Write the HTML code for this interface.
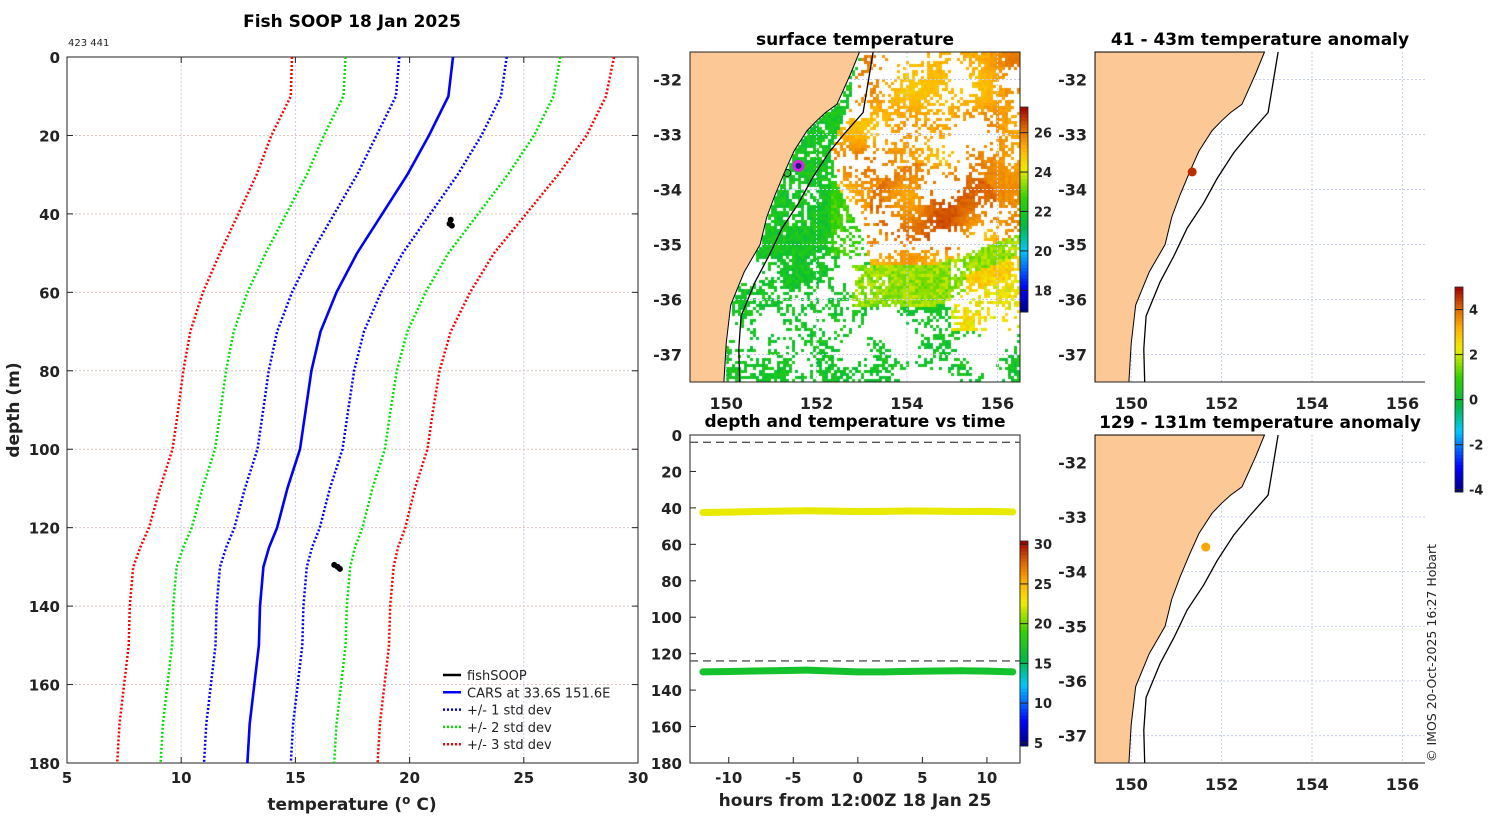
<!DOCTYPE html>
<html><head><meta charset="utf-8"><style>
body{margin:0;background:#fff;width:1500px;height:820px;overflow:hidden;position:relative}
svg{position:absolute;left:0;top:0}
canvas{position:absolute}
text{font-family:"DejaVu Sans","Liberation Sans",sans-serif;fill:#222}
.tk{font-size:15px;font-weight:bold}
.ti{font-size:17px;font-weight:bold;fill:#000}
.pl{font-size:13px;font-weight:normal}
</style></head><body>
<canvas id="sst" width="330" height="330" style="left:690px;top:52px"></canvas>
<svg id="fig" width="1500" height="820"></svg>
<script>
// ===== Profile data =====
const profDepths=[0,10,20,30,40,50,60,70,80,90,100,110,120,125,130,140,150,160,170,180];
const carsMean=[21.9,21.7,20.85,19.9,18.8,17.7,16.8,16.1,15.7,15.45,15.2,14.65,14.2,13.85,13.6,13.45,13.4,13.2,13.0,12.9];
const carsStd=[2.35,2.3,2.3,2.2,2.1,2.0,1.95,1.9,1.87,1.86,1.86,1.86,1.87,1.88,1.9,1.9,1.9,1.9,1.9,1.9];
const fishDepths=[41.5,42.5,43,129.5,130,130.5];
const fishTemps=[21.8,21.75,21.85,16.7,16.85,16.95];
const xTicks=[5,10,15,20,25,30];
const yTicks=[0,20,40,60,80,100,120,140,160,180];
// ===== Time series data =====
const hours=[-12,-10,-8,-6,-4,-2,0,2,4,6,8,10,12];
const depthShallow=[42.5,42.3,42,41.8,41.6,41.8,42,41.9,41.7,41.8,42,41.9,42.2];
const depthDeep=[130,129.8,129.5,129.3,129,129.5,130,130,129.7,129.5,129.4,129.6,130];
const tempShallow=[22.5,22.5,22.6,22.5,22.5,22.4,22.5,22.5,22.6,22.5,22.5,22.5,22.5];
const tempDeep=[16.8,16.8,16.9,16.8,16.8,16.7,16.8,16.8,16.8,16.9,16.8,16.8,16.8];
const tsXTicks=[-10,-5,0,5,10];
const tsYTicks=[0,20,40,60,80,100,120,140,160,180];
const tsCbTicks=[5,10,15,20,25,30];
const sstCbTicks=[18,20,22,24,26];
const anomCbTicks=[-4,-2,0,2,4];
const mldDepths=[4,124];
// map markers
const anomTop={lon:151.35,lat:-33.68,val:4.6};
const anomBot={lon:151.65,lat:-33.55,val:3.3};

const NS='http://www.w3.org/2000/svg';
const svg=document.getElementById('fig');
function el(tag,attrs,parent){const e=document.createElementNS(NS,tag);for(const k in attrs)e.setAttribute(k,attrs[k]);(parent||svg).appendChild(e);return e;}
function txt(x,y,s,cls,anchor,parent){const t=el('text',{x:x,y:y,class:cls,'text-anchor':anchor||'middle'},parent);t.textContent=s;return t;}

// colormap
const stops=[[0,[0,0,127]],[0.12,[0,0,255]],[0.3,[0,200,255]],[0.42,[0,185,70]],[0.56,[50,210,0]],[0.7,[240,235,0]],[0.8,[255,175,0]],[0.9,[220,100,0]],[1,[160,0,0]]];
function cmap(t){t=Math.max(0,Math.min(1,t));for(let i=1;i<stops.length;i++){if(t<=stops[i][0]){const a=stops[i-1],b=stops[i];const f=(t-a[0])/(b[0]-a[0]);const c=a[1].map((v,j)=>Math.round(v+(b[1][j]-v)*f));return 'rgb('+c.join(',')+')';}}return 'rgb(160,0,0)';}

// ===== Left profile chart =====
const P={x0:67,x1:638,y0:57,y1:763};
const px=v=>P.x0+(v-5)/25*(P.x1-P.x0);
const py=d=>P.y0+d/180*(P.y1-P.y0);
const gL=el('g',{},svg);

xTicks.forEach(v=>{if(v>5&&v<30)el('line',{x1:px(v),x2:px(v),y1:P.y0,y2:P.y1,stroke:'#c6cdf0','stroke-width':1,'stroke-dasharray':'2,2'},gL);
 el('line',{x1:px(v),x2:px(v),y1:P.y1,y2:P.y1-6,stroke:'#222'},gL);el('line',{x1:px(v),x2:px(v),y1:P.y0,y2:P.y0+6,stroke:'#222'},gL);
 txt(px(v),783,String(v),'tk','middle',gL);});
yTicks.forEach(v=>{if(v>0&&v<180)el('line',{x1:P.x0,x2:P.x1,y1:py(v),y2:py(v),stroke:'#dcc6c0','stroke-width':1,'stroke-dasharray':'2,2'},gL);
 el('line',{x1:P.x0,x2:P.x0+6,y1:py(v),y2:py(v),stroke:'#222'},gL);el('line',{x1:P.x1,x2:P.x1-6,y1:py(v),y2:py(v),stroke:'#222'},gL);
 txt(60,py(v)+6,String(v),'tk','end',gL);});
el('rect',{x:P.x0,y:P.y0,width:P.x1-P.x0,height:P.y1-P.y0,fill:'none',stroke:'#222','stroke-width':1},gL);
function line(vals,color,dash,w,name){const pts=profDepths.map((d,i)=>px(vals[i]).toFixed(1)+','+py(d).toFixed(1)).join(' ');
 const p=el('polyline',{points:pts,fill:'none',stroke:color,'stroke-width':w,'stroke-dasharray':dash||'none'},gL);
 }
[[3,'#ff0000'],[2,'#00e000'],[1,'#0000ff']].forEach(([k,c])=>{
 line(carsMean.map((m,i)=>m-k*carsStd[i]),c,'2,2',2.5,'cars-minus-'+k+'-std');
 line(carsMean.map((m,i)=>m+k*carsStd[i]),c,'2,2',2.5,'cars-plus-'+k+'-std');});
line(carsMean,'#0000ff',null,2.6,'cars-mean-line');
fishDepths.forEach((d,i)=>{const c=el('ellipse',{cx:px(fishTemps[i]),cy:py(d),rx:3,ry:3,fill:'#000'},gL);});
txt(352,27,'Fish SOOP 18 Jan 2025','ti','middle',svg);
txt(68,46,'423 441','pl','start').setAttribute('style','font-size:10px');
const yt=txt(0,0,'depth (m)','tk','middle');yt.setAttribute('transform','translate(19,410) rotate(-90)');yt.setAttribute('style','font-size:17px');
const xt=txt(352,810,'','tk','middle');xt.setAttribute('style','font-size:17px');
xt.innerHTML='temperature (<tspan dy="-6" style="font-size:12px">o</tspan><tspan dy="6"> C)</tspan>';
// legend
const leg=[['fishSOOP','#000',null],['CARS at 33.6S 151.6E','#0000ff',null],['+/- 1 std dev','#0000ff','2,2'],['+/- 2 std dev','#00e000','2,2'],['+/- 3 std dev','#ff0000','2,2']];
leg.forEach((l,i)=>{const y=675+i*17.3;const g=el('g',{},gL);
 el('line',{x1:443,x2:461,y1:y,y2:y,stroke:l[1],'stroke-width':2.5,'stroke-dasharray':l[2]||'none'},g);
 txt(467,y+5,l[0],'pl','start',g);});

// ===== Maps =====
const coast=[[-31.5,152.95],[-31.9,152.75],[-32.25,152.56],[-32.45,152.45],[-32.6,152.2],[-32.75,152.0],[-32.93,151.79],[-33.3,151.5],[-33.67,151.3],[-34.1,151.08],[-34.5,150.9],[-35.0,150.75],[-35.5,150.4],[-36.1,150.1],[-36.8,150.0],[-37.5,149.95]];
const iso=[[-31.5,153.25],[-32.0,153.15],[-32.6,153.03],[-33.0,152.6],[-33.33,152.27],[-33.8,151.9],[-34.25,151.6],[-34.7,151.24],[-35.2,150.95],[-35.68,150.64],[-36.3,150.33],[-36.9,150.28],[-37.5,150.3]];
function interpLat(arr,lat){for(let i=1;i<arr.length;i++){if(lat>=arr[i][0]){const a=arr[i-1],b=arr[i];const f=(lat-a[0])/(b[0]-a[0]);return a[1]+(b[1]-a[1])*f;}}return arr[arr.length-1][1];}
function makeMap(x0,y0,w,h,name,frame){
 const mx=lon=>x0+(lon-149.2)/(156.5-149.2)*w, my=lat=>y0+(-31.5-lat)/6*h;
 const g=el('g',{},svg);
 [150,152,154,156].forEach(v=>{el('line',{x1:mx(v),x2:mx(v),y1:y0,y2:y0+h,stroke:'#c6cdf0','stroke-dasharray':'2,2'},g);txt(mx(v),y0+h+27,String(v),'tk','middle',g).setAttribute('style','font-size:16px');});
 [-32,-33,-34,-35,-36,-37].forEach(v=>{el('line',{x1:x0,x2:x0+w,y1:my(v),y2:my(v),stroke:'#c6cdf0','stroke-dasharray':'2,2'},g);txt(x0-8,my(v)+6,String(v),'tk','end',g).setAttribute('style','font-size:16px');});
 let d='M'+x0+','+y0;coast.forEach(c=>{d+=' L'+mx(c[1]).toFixed(1)+','+my(c[0]).toFixed(1);});d+=' L'+x0+','+(y0+h)+' Z';
 const land=el('path',{d:d,fill:'#fbc896',stroke:'#000','stroke-width':1},g);
 const ip=el('polyline',{points:iso.map(c=>mx(c[1]).toFixed(1)+','+my(c[0]).toFixed(1)).join(' '),fill:'none',stroke:'#000','stroke-width':1.3},g);
 
 el('line',{x1:x0,x2:x0+w,y1:y0+h,y2:y0+h,stroke:'#222'},g);
 if(frame){el('rect',{x:x0,y:y0,width:w,height:h,fill:'none',stroke:'#222'},g);}
 return {mx,my,g};}
const mSST=makeMap(690,52,330,330,'sst-map',true);
const mA1=makeMap(1095,52,330,330,'anomaly-map-41-43m',false);
const mA2=makeMap(1095,435,330,328,'anomaly-map-129-131m',false);
txt(855,45,'surface temperature','ti','middle');
txt(1260,45,'41 - 43m temperature anomaly','ti','middle');
txt(1260,428,'129 - 131m temperature anomaly','ti','middle');
const aN=v=>(v+4.1)/9.1;
let c1=el('circle',{cx:mA1.mx(anomTop.lon),cy:mA1.my(anomTop.lat),r:4.5,fill:cmap(aN(anomTop.val))});
let c2=el('circle',{cx:mA2.mx(anomBot.lon),cy:mA2.my(anomBot.lat),r:4.5,fill:cmap(aN(anomBot.val))});
let r1=el('circle',{cx:mSST.mx(151.6),cy:mSST.my(-33.57),r:4.5,fill:'#1a1a80',stroke:'#e020e0','stroke-width':3});
let r2=el('circle',{cx:mSST.mx(151.35),cy:mSST.my(-33.7),r:3.5,fill:'#30c030',stroke:'#000','stroke-width':0.7});

// SST field texture on canvas (decorative image texture)
(function(){const cv=document.getElementById('sst').getContext('2d');const S=3;
 const hash=(i,j)=>{let h=Math.sin(i*127.1+j*311.7+0.37)*43758.5453;return h-Math.floor(h);};
 function vnoise(x,y,sc,seed){const X=x/sc,Y=y/sc;const i=Math.floor(X),j=Math.floor(Y);const fx=X-i,fy=Y-j;
  const sx=fx*fx*(3-2*fx),sy=fy*fy*(3-2*fy);
  const a=hash(i+seed,j),b=hash(i+1+seed,j),c=hash(i+seed,j+1),d=hash(i+1+seed,j+1);
  return a+(b-a)*sx+(c-a)*sy+(a-b-c+d)*sx*sy;}
 const bLon=[[-31.5,153.0],[-32.5,152.7],[-33.3,152.3],[-34,152.5],[-34.6,152.9],[-35.4,153.2],[-37.5,153.2]];
 for(let i=0;i<110;i++)for(let j=0;j<110;j++){
  const lon=149.2+(i+0.5)*S/330*7.3, lat=-31.5-(j+0.5)*S/330*6;
  if(lon<interpLat(coast,lat)+0.03)continue;
  const n=0.55*vnoise(i,j,9,0)+0.25*vnoise(i,j,4,50)+0.4*hash(i*3+1,j*7+2);
  const s=lon<154.5?-35.4:-35.4+0.3*(lon-154.5);
  let T,thr;
  const warm=lon>interpLat(bLon,lat)&&lat>s;
  const tv=vnoise(i,j,12,100);
  if(warm){T=24.6+1.3*tv+0.3*hash(j,i);thr=0.6;
   if(Math.hypot((lon-154.6)/1.4,(lat+34.3)/0.8)<1)T+=0.5;}
  else if(lat<=s&&lat>s-0.75&&lon>152.8){T=23.0+0.9*hash(j,i)+(lon>155.3&&lat<s-0.4?1.2:0);thr=0.45;}
  else if(lat>-35.2){T=21.6+0.8*hash(j,i);thr=0.42;if(lon>152.3&&lat<-33.8)T=22.3+0.8*hash(j,i);}
  else{T=21.5+0.8*hash(j,i);thr=lat>-36.3?0.62:0.68;if(lon>155&&lat>-36.6){T=23.8+hash(j,i);thr=0.6;}}
  if(n<thr)continue;
  cv.fillStyle=cmap((T-16.9)/10.4);cv.fillRect(i*S,j*S,S,S);}
})();
svg.appendChild(mSST.g);

// colorbars
function colorbar(x,y,w,h,vmin,vmax,ticks,name){const g=el('g',{},svg);
 const N=60;for(let k=0;k<N;k++){el('rect',{x:x,y:y+h-(k+1)*h/N,width:w,height:h/N+0.5,fill:cmap((k+0.5)/N)},g);}
 el('rect',{x:x,y:y,width:w,height:h,fill:'none',stroke:'#222','stroke-width':0.8},g);
 ticks.forEach(v=>{const yy=y+h-(v-vmin)/(vmax-vmin)*h;el('line',{x1:x,x2:x+w,y1:yy,y2:yy,stroke:'#222'},g);const t=txt(x+w+6,yy+5,String(v),'tk','start',g);t.setAttribute('style','font-size:13px');});}
colorbar(1020,107,8,205,16.9,27.3,sstCbTicks,'sst-colorbar');
colorbar(1455,287,8,205,-4.1,5.0,anomCbTicks,'anomaly-colorbar');

// ===== Time series chart =====
const T={x0:690,x1:1020,y0:435,y1:763};
const tx=h=>T.x0+(h+13)/25.56*(T.x1-T.x0);
const ty=d=>T.y0+d/180*(T.y1-T.y0);
const gT=el('g',{},svg);
tsXTicks.forEach(v=>{el('line',{x1:tx(v),x2:tx(v),y1:T.y1,y2:T.y1-6,stroke:'#222'},gT);txt(tx(v),783,String(v),'tk','middle',gT);});
tsYTicks.forEach(v=>{el('line',{x1:T.x0,x2:T.x0+6,y1:ty(v),y2:ty(v),stroke:'#222'},gT);txt(682,ty(v)+6,String(v),'tk','end',gT);});
el('rect',{x:T.x0,y:T.y0,width:T.x1-T.x0,height:T.y1-T.y0,fill:'none',stroke:'#222'},gT);
mldDepths.forEach(d=>{const l=el('line',{x1:T.x0,x2:T.x1,y1:ty(d),y2:ty(d),stroke:'#555','stroke-width':1.3,'stroke-dasharray':'8,5'},gT);});
const tN=v=>(v-4.6)/(30.4-4.6);
function tsLine(ds,ts,name){for(let i=1;i<hours.length;i++){const s=el('line',{x1:tx(hours[i-1]),y1:ty(ds[i-1]),x2:tx(hours[i]),y2:ty(ds[i]),stroke:cmap(tN((ts[i]+ts[i-1])/2)),'stroke-width':7,'stroke-linecap':'round'},gT);}}
tsLine(depthShallow,tempShallow,'shallow-sensor-track');
tsLine(depthDeep,tempDeep,'deep-sensor-track');
colorbar(1020,541,8,205,4.6,30.4,tsCbTicks,'time-colorbar');
txt(855,427,'depth and temperature vs time','ti','middle');
const tt=txt(855,806,'hours from 12:00Z 18 Jan 25','tk','middle');tt.setAttribute('style','font-size:17px');
const cp=txt(0,0,'© IMOS 20-Oct-2025 16:27 Hobart','pl','start');cp.setAttribute('transform','translate(1436,762) rotate(-90)');cp.setAttribute('style','font-size:12.5px');
</script>
</body></html>
